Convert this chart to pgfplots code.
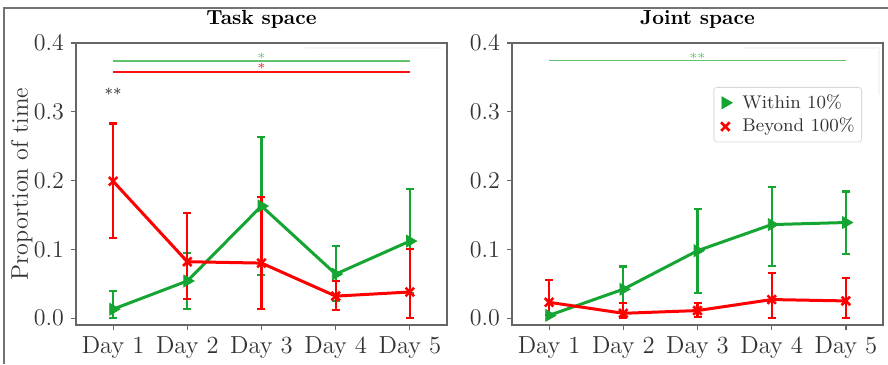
\documentclass[border=0pt]{standalone}
\usepackage{pgfplots}
\usepackage{pgfplotstable}
\pgfplotsset{compat=1.18}
\definecolor{cgreen}{RGB}{20,165,50}
\definecolor{cred}{RGB}{255,0,0}
\definecolor{sgreen}{RGB}{95,195,110}
\definecolor{sred}{RGB}{255,20,20}

\pgfplotstableread{
x y ep em
0 0.013 0.027 0.013
1 0.054 0.041 0.041
2 0.163 0.100 0.100
3 0.064 0.041 0.039
4 0.112 0.076 0.076
}\taskgreen
\pgfplotstableread{
x y ep em
0 0.199 0.084 0.083
1 0.082 0.071 0.054
2 0.080 0.096 0.067
3 0.032 0.022 0.020
4 0.038 0.062 0.038
}\taskred
\pgfplotstableread{
x y ep em
0 0.004 0.000 0.000
1 0.042 0.033 0.033
2 0.098 0.061 0.061
3 0.136 0.055 0.060
4 0.139 0.045 0.046
}\jointgreen
\pgfplotstableread{
x y ep em
0 0.023 0.033 0.019
1 0.007 0.015 0.006
2 0.011 0.011 0.009
3 0.027 0.039 0.027
4 0.025 0.033 0.025
}\jointred

\pgfplotsset{
  myax/.style={
    scale only axis, width=185.5pt, height=141pt,
    xmin=-0.5, xmax=4.5, ymin=-0.01, ymax=0.4,
    xtick={0,1,2,3,4}, xticklabels={Day 1,Day 2,Day 3,Day 4,Day 5},
    ytick={0,0.1,0.2,0.3,0.4},
    yticklabel style={/pgf/number format/.cd, fixed, fixed zerofill, precision=1},
    tick label style={font=\fontsize{12.3}{14}\selectfont, text=black!80},
    axis line style={black!60, line width=0.6pt},
    tick style={black!60, line width=0.6pt},
    major tick length=2.5pt, tick align=outside,
    xtick pos=bottom, ytick pos=left,
    title style={font=\fontsize{10.2}{12}\selectfont\bfseries, at={(0.5,1)}, anchor=base, yshift=3pt},
    clip=false,
  },
  gstyle/.style={color=cgreen, line width=1.5pt, mark=triangle*, mark size=3.4pt,
    mark options={rotate=-90, solid, line width=0.4pt},
    error bars/.cd, y dir=both, y explicit,
    error bar style={line width=1.1pt, color=cgreen},
    error mark options={rotate=90, line width=1.1pt, mark size=2pt, color=cgreen}},
  rstyle/.style={color=cred, line width=1.5pt, mark=x, mark size=3pt,
    mark options={solid, line width=1.3pt},
    error bars/.cd, y dir=both, y explicit,
    error bar style={line width=1.1pt, color=cred},
    error mark options={rotate=90, line width=1.1pt, mark size=2pt, color=cred}},
}

\begin{document}
\begin{tikzpicture}
\path[use as bounding box] (0,0) rectangle (444pt,182pt);
\draw[black!55, line width=0.6pt] (2pt,0) -- (2pt,178pt) -- (444pt,178pt);

\begin{axis}[myax, at={(38pt,19.5pt)}, anchor=south west,
  title={Task space},
  ylabel={Proportion of time},
  ylabel style={at={(axis description cs:-0.146,0.5)}, anchor=center, font=\fontsize{12}{14}\selectfont, text=black!80},
]
\draw[black!4, line width=0.6pt] (rel axis cs:0.617,0.982) -- (rel axis cs:0.987,0.982);
\draw[sgreen, line width=0.65pt] (axis cs:0,0.374) -- (axis cs:4,0.374);
\draw[sred, line width=0.65pt] (axis cs:0,0.358) -- (axis cs:4,0.358);
\addplot[gstyle] table[x=x, y=y, y error plus=ep, y error minus=em] {\taskgreen};
\addplot[rstyle] table[x=x, y=y, y error plus=ep, y error minus=em] {\taskred};
\node[text=sgreen, font=\scriptsize, inner sep=0pt] at (axis cs:2,0.381) {$\ast$};
\node[text=sred, font=\scriptsize, inner sep=0pt] at (axis cs:2,0.366) {$\ast$};
\node[text=black!85, font=\footnotesize, inner sep=0pt] at (axis cs:0,0.329) {${\ast}{\ast}$};
\end{axis}

\begin{axis}[myax, at={(256pt,19.5pt)}, anchor=south west,
  title={Joint space},
  legend style={at={(rel axis cs:0.543,0.844)}, anchor=north west, draw=black!15,
    rounded corners=1.5pt, font=\fontsize{9.2}{11}\selectfont, text=black!80,
    inner sep=1.5pt, row sep=-0.5pt, cells={anchor=west}},
  legend image code/.code={\path[draw=none] (0,0) -- (0.38cm,0); \draw plot coordinates {(0.15cm,0cm)};},
]
\draw[black!4, line width=0.6pt] (rel axis cs:0.622,0.982) -- (rel axis cs:0.989,0.982) -- (rel axis cs:0.989,0.816);
\draw[sgreen, line width=0.65pt] (axis cs:0,0.375) -- (axis cs:4,0.375);
\addplot[gstyle] table[x=x, y=y, y error plus=ep, y error minus=em] {\jointgreen};
\addlegendentry{Within 10\%}
\addplot[rstyle] table[x=x, y=y, y error plus=ep, y error minus=em] {\jointred};
\addlegendentry{Beyond 100\%}
\node[text=sgreen, font=\scriptsize, inner sep=0pt] at (axis cs:2,0.381) {${\ast}{\ast}$};
\end{axis}
\end{tikzpicture}
\end{document}
